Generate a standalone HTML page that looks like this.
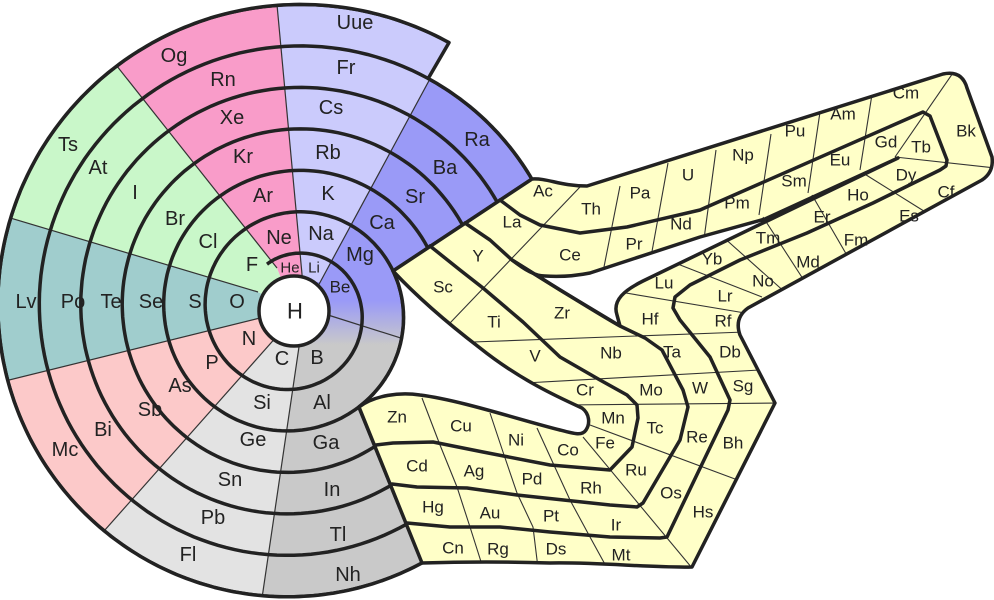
<!DOCTYPE html>
<html><head><meta charset="utf-8"><style>
html,body{margin:0;padding:0;background:#fff;width:994px;height:600px;overflow:hidden}
svg{display:block}
text{font-family:"Liberation Sans",Arial,sans-serif;fill:#222;text-anchor:middle;dominant-baseline:central}
.s{font-size:20px}.d{font-size:17px}.sm{font-size:15px}
</style></head><body>
<svg width="994" height="600" viewBox="0 0 994 600" xmlns="http://www.w3.org/2000/svg">
<defs>
<clipPath id="spc"><path id="clipO" d=""/></clipPath>
<clipPath id="dbc"><path id="dclip" d="M532,179 C548,178 560,186 587,186 L943,74 Q962,70 967,88 L992,157 Q994,172 982,180 L748,308 Q734,318 740,335 L775,403 L692,567 C650,568 600,562 550,563 C520,562 483,561 422,563 L359,407 C375,395 400,392 420,395 C460,400 520,420 560,430 C575,434 582,436 586,430 C590,424 590,414 582,408 C560,398 520,380 480,348 C450,325 420,300 393,271 Z"/></clipPath>
<linearGradient id="bg" x1="0" y1="0" x2="0" y2="1"><stop offset="0" stop-color="#9a9af7"/><stop offset="0.3" stop-color="#9a9af7"/><stop offset="1" stop-color="#c9c9c9"/></linearGradient>
</defs>
<g clip-path="url(#spc)">
<polygon fill="#cbcbfc" points="294,311 303,285 271,-60 505,-60 317,288"/>
<polygon fill="#9a9af7" points="294,311 317,288 505,-60 900,-60 900,496 328,315"/>
<polygon fill="#c9c9c9" points="294,311 328,315 900,496 900,700 247,700 300,340"/>
<polygon fill="#e3e3e3" points="294,311 300,340 247,700 -46,700 278,335"/>
<polygon fill="#fcc9c9" points="294,311 278,335 -46,700 -100,700 -100,407 260,318"/>
<polygon fill="#a0cdcd" points="294,311 260,318 -100,407 -100,185 258,292"/>
<polygon fill="#c9f7c9" points="294,311 258,292 -100,185 -100,-60 17,-60 277,268"/>
<polygon fill="#f99cc9" points="294,311 277,268 17,-60 271,-60 303,285"/>
<rect x="300" y="282" width="130" height="63" fill="url(#bg)"/>
<g stroke="#333" stroke-width="1.2">
<line x1="303" y1="285" x2="271" y2="-60"/>
<line x1="317" y1="288" x2="505" y2="-60"/>
<line x1="328" y1="315" x2="600" y2="401"/>
<line x1="300" y1="340" x2="247" y2="700"/>
<line x1="278" y1="335" x2="-46" y2="700"/>
<line x1="260" y1="318" x2="-100" y2="407"/>
<line x1="258" y1="292" x2="-100" y2="185"/>
<line x1="277" y1="268" x2="17" y2="-60"/>
</g>
<path id="spir" d="" fill="none" stroke="#222" stroke-width="3.5"/>
</g>
<path id="outl" d="" fill="none" stroke="#222" stroke-width="3.5" stroke-linejoin="round"/>
<circle cx="294" cy="311" r="35" fill="#fff" stroke="#222" stroke-width="3.5"/>

<path d="M532,179 C548,178 560,186 587,186 L943,74 Q962,70 967,88 L992,157 Q994,172 982,180 L748,308 Q734,318 740,335 L775,403 L692,567 C650,568 600,562 550,563 C520,562 483,561 422,563 L359,407 C375,395 400,392 420,395 C460,400 520,420 560,430 C575,434 582,436 586,430 C590,424 590,414 582,408 C560,398 520,380 480,348 C450,325 420,300 393,271 Z" fill="#ffffc8"/>
<g clip-path="url(#dbc)" stroke="#333" stroke-width="1.1" fill="none">
<line x1="450" y1="323" x2="580" y2="187"/>
<line x1="603" y1="272" x2="620" y2="186"/>
<line x1="651" y1="257" x2="668" y2="163"/>
<line x1="704" y1="239" x2="716" y2="150"/>
<line x1="759" y1="215" x2="771" y2="134"/>
<line x1="808" y1="193" x2="820" y2="112"/>
<line x1="860" y1="170" x2="873" y2="88"/>
<line x1="895" y1="157" x2="955" y2="70"/>
<line x1="895" y1="157" x2="995" y2="168"/>
<line x1="863" y1="173" x2="935" y2="218"/>
<line x1="812" y1="195" x2="852" y2="264"/>
<line x1="763" y1="217" x2="805" y2="282"/>
<line x1="722" y1="236" x2="787" y2="294"/>
<line x1="670" y1="261" x2="762" y2="297"/>
<line x1="620" y1="292" x2="745" y2="313"/>
<line x1="473" y1="342" x2="745" y2="332"/>
<line x1="525" y1="383" x2="760" y2="370"/>
<line x1="565" y1="405" x2="778" y2="403"/>
<line x1="590" y1="425" x2="735" y2="479"/>
<line x1="583" y1="437" x2="692" y2="568"/>
<polyline points="537,428 553,463 570,500 590,537 607,568"/>
<polyline points="490,413 503,452 517,493 533,527 538,568"/>
<polyline points="422,398 440,445 457,487 470,527 483,568"/>
</g>
<path d="M512,260 C525,270 535,276 545,276 C560,277 575,276 590,273 L700,237 L765,219 L898,158 L765,222 L643,281 C625,290 612,300 617,315 L620,326 C600,315 560,290 512,260 Z" fill="#fff" stroke="#222" stroke-width="3.5" stroke-linejoin="round"/>
<g fill="none" stroke="#222" stroke-width="3.5" stroke-linejoin="round" stroke-linecap="round">
<polyline points="430,246 460,270 483,288 523,322 560,357 600,380 627,395 637,405 638,418 632,447 610,470 550,465 483,452 433,442 393,443 376,445"/>
<polyline points="465,223 490,240 512,260 560,290 620,326 645,338 662,350 683,390 688,407 680,440 643,503 637,507 610,505 517,495 467,488 417,487 392,484"/>
<polyline points="500,200 520,215 540,225 580,233 627,227 700,210 923,112 930,116 947,160 946,166 940,170 873,203 807,233 740,260 690,285 675,297 673,308 680,320 710,357 730,400 728,410 667,537 660,538 610,537 550,532 500,527 450,527 407,523"/>
</g>
<path d="M532,179 C548,178 560,186 587,186 L943,74 Q962,70 967,88 L992,157 Q994,172 982,180 L748,308 Q734,318 740,335 L775,403 L692,567 C650,568 600,562 550,563 C520,562 483,561 422,563 L359,407 C375,395 400,392 420,395 C460,400 520,420 560,430 C575,434 582,436 586,430 C590,424 590,414 582,408 C560,398 520,380 480,348 C450,325 420,300 393,271 Z" fill="none" stroke="#222" stroke-width="3.5" stroke-linejoin="round"/>

<text x="295" y="311" style="font-size:22px">H</text>
<text x="290" y="268" class="sm">He</text><text x="314" y="268" class="sm">Li</text>
<text x="340" y="287" style="font-size:17px">Be</text>
<text x="279" y="238" class="s">Ne</text><text x="321" y="234" class="s">Na</text><text x="360" y="255" class="s">Mg</text>
<text x="252" y="265" class="s">F</text><text x="237" y="302" class="s">O</text><text x="249" y="339" class="s">N</text>
<text x="282" y="359" class="s">C</text><text x="317" y="358" class="s">B</text>
<text x="208" y="242" class="s">Cl</text><text x="195" y="302" class="s">S</text><text x="212" y="363" class="s">P</text>
<text x="262" y="403" class="s">Si</text><text x="322" y="403" class="s">Al</text>
<text x="263" y="196" class="s">Ar</text><text x="328" y="194" class="s">K</text><text x="382" y="223" class="s">Ca</text>
<text x="175" y="219" class="s">Br</text><text x="151" y="302" class="s">Se</text><text x="180" y="386" class="s">As</text>
<text x="253" y="440" class="s">Ge</text><text x="326" y="443" class="s">Ga</text>
<text x="243" y="157" class="s">Kr</text><text x="328" y="153" class="s">Rb</text><text x="415" y="197" class="s">Sr</text>
<text x="135" y="193" class="s">I</text><text x="111" y="302" class="s">Te</text><text x="150" y="410" class="s">Sb</text>
<text x="230" y="480" class="s">Sn</text><text x="332" y="490" class="s">In</text>
<text x="232" y="118" class="s">Xe</text><text x="331" y="108" class="s">Cs</text><text x="445" y="168" class="s">Ba</text>
<text x="98" y="168" class="s">At</text><text x="73" y="302" class="s">Po</text><text x="103" y="430" class="s">Bi</text>
<text x="213" y="518" class="s">Pb</text><text x="338" y="535" class="s">Tl</text>
<text x="223" y="80" class="s">Rn</text><text x="346" y="68" class="s">Fr</text><text x="477" y="140" class="s">Ra</text>
<text x="68" y="145" class="s">Ts</text><text x="26" y="302" class="s">Lv</text><text x="65" y="450" class="s">Mc</text>
<text x="188" y="555" class="s">Fl</text><text x="348" y="575" class="s">Nh</text>
<text x="174" y="56" class="s">Og</text><text x="355" y="23" class="s">Uue</text>

<text x="543" y="191" class="d">Ac</text><text x="591" y="209" class="d">Th</text><text x="640" y="193" class="d">Pa</text>
<text x="688" y="175" class="d">U</text><text x="743" y="155" class="d">Np</text><text x="795" y="131" class="d">Pu</text>
<text x="843" y="114" class="d">Am</text><text x="906" y="93" class="d">Cm</text><text x="966" y="131" class="d">Bk</text>
<text x="512" y="222" class="d">La</text><text x="570" y="255" class="d">Ce</text><text x="634" y="244" class="d">Pr</text>
<text x="681" y="224" class="d">Nd</text><text x="737" y="203" class="d">Pm</text><text x="794" y="181" class="d">Sm</text>
<text x="840" y="160" class="d">Eu</text><text x="886" y="142" class="d">Gd</text><text x="921" y="147" class="d">Tb</text>
<text x="906" y="175" class="d">Dy</text><text x="858" y="195" class="d">Ho</text><text x="822" y="217" class="d">Er</text>
<text x="768" y="238" class="d">Tm</text><text x="712" y="259" class="d">Yb</text><text x="664" y="283" class="d">Lu</text>
<text x="946" y="192" class="d">Cf</text><text x="909" y="216" class="d">Es</text><text x="856" y="240" class="d">Fm</text>
<text x="808" y="262" class="d">Md</text><text x="763" y="281" class="d">No</text><text x="725" y="296" class="d">Lr</text>
<text x="478" y="256" class="d">Y</text><text x="443" y="287" class="d">Sc</text><text x="494" y="322" class="d">Ti</text>
<text x="562" y="313" class="d">Zr</text><text x="650" y="319" class="d">Hf</text><text x="723" y="321" class="d">Rf</text>
<text x="535" y="356" class="d">V</text><text x="611" y="353" class="d">Nb</text><text x="672" y="352" class="d">Ta</text>
<text x="730" y="352" class="d">Db</text><text x="585" y="390" class="d">Cr</text><text x="651" y="390" class="d">Mo</text>
<text x="700" y="388" class="d">W</text><text x="743" y="386" class="d">Sg</text><text x="613" y="418" class="d">Mn</text>
<text x="655" y="428" class="d">Tc</text><text x="697" y="437" class="d">Re</text><text x="733" y="443" class="d">Bh</text>
<text x="605" y="443" class="d">Fe</text><text x="636" y="470" class="d">Ru</text><text x="671" y="493" class="d">Os</text>
<text x="703" y="512" class="d">Hs</text><text x="568" y="450" class="d">Co</text><text x="516" y="440" class="d">Ni</text>
<text x="461" y="426" class="d">Cu</text><text x="397" y="417" class="d">Zn</text><text x="591" y="488" class="d">Rh</text>
<text x="532" y="479" class="d">Pd</text><text x="474" y="471" class="d">Ag</text><text x="417" y="466" class="d">Cd</text>
<text x="616" y="525" class="d">Ir</text><text x="551" y="516" class="d">Pt</text><text x="490" y="513" class="d">Au</text>
<text x="433" y="507" class="d">Hg</text><text x="621" y="555" class="d">Mt</text><text x="556" y="549" class="d">Ds</text>
<text x="498" y="549" class="d">Rg</text><text x="453" y="548" class="d">Cn</text>
</svg>
<script>
(function(){
var cx=294,cy=311;
function S(t){return 16+41.5*t/360;}
function P(p,r){var a=p*Math.PI/180;return (cx+r*Math.sin(a)).toFixed(1)+","+(cy-r*Math.cos(a)).toFixed(1);}
var o=[],p;
for(p=153;p<=390;p++)o.push(P(p,S(p+2160)));
for(p=30;p<=61;p++)o.push(P(p,S(p+2160)));
for(p=68;p<=146;p++)o.push(P(p,S(p+720)));
var d="M"+o.join(" L")+" Z";
document.getElementById("clipO").setAttribute("d",d);
document.getElementById("outl").setAttribute("d",d);
var s=[];for(var t=330;t<=2550;t+=2)s.push(P(t%360,S(t)));
document.getElementById("spir").setAttribute("d","M"+s.join(" L"));
})();
</script>
</body></html>
